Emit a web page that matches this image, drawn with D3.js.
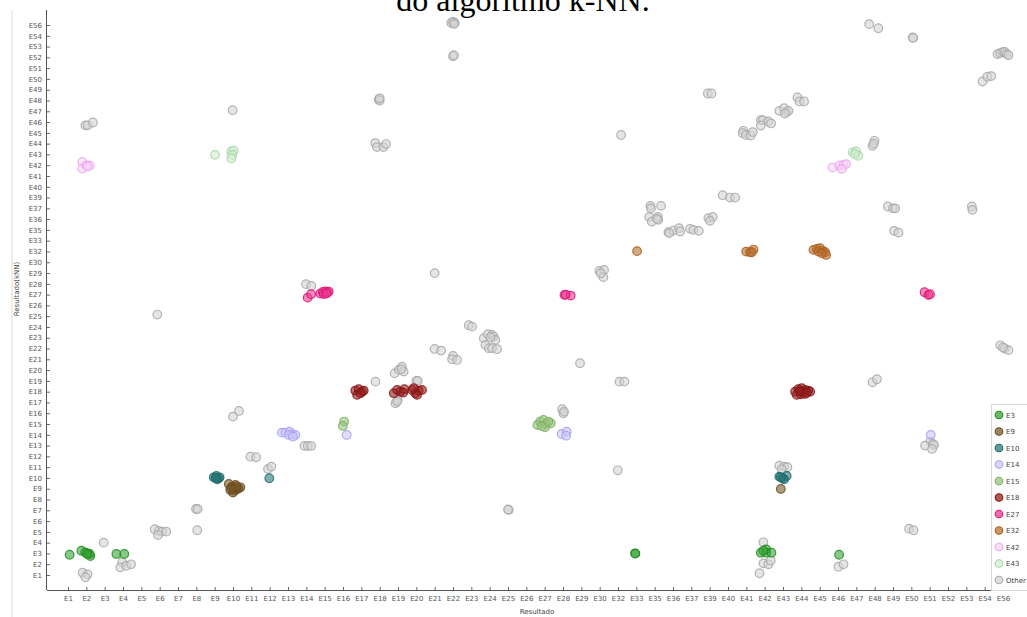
<!DOCTYPE html>
<html>
<head>
<meta charset="utf-8">
<script src="https://cdn.jsdelivr.net/npm/d3@7"></script>
<style>
  html, body { margin: 0; padding: 0; background: #fff; }
  svg { display: block; }
  .tick text { font-family: "DejaVu Sans", sans-serif; font-size: 7px; fill: #555; }
  .tick line { stroke: #666; }
</style>
</head>
<body>
<script>
// Category labels shared by both axes (classes present in the test set)
const categories = ["E1","E2","E3","E4","E5","E6","E7","E8","E9","E10","E11","E12","E13","E14",
  "E15","E16","E17","E18","E19","E20","E21","E22","E23","E24","E25","E26","E27","E28","E29","E30",
  "E32","E33","E35","E36","E37","E39","E40","E41","E42","E43","E44","E45","E46","E47","E48","E49",
  "E50","E51","E52","E53","E54","E56"];

// Each point: [position on the "Resultado" axis, position on the "Resultado(kNN)" axis],
// given as category index with the jitter used to separate overlapping samples.
const otherPts = [
  [20.9,51.2],[21.0,51.3],[21.1,51.2],[21.05,51.1],[21.0,48.1],[21.05,48.2],
  [16.95,44.1],[17.0,44.0],[17.0,44.2],[16.76,40.05],[16.85,39.68],[17.2,39.68],[17.35,39.96],
  [8.98,43.1],[0.95,41.7],[1.07,41.7],[1.36,41.96],[20.0,27.99],[12.98,26.97],[13.27,26.8],
  [43.7,51.08],[44.2,50.7],[46.08,49.84],[46.1,49.8],
  [50.7,48.3],[50.85,48.4],[51.0,48.5],[51.1,48.5],[51.2,48.3],[51.3,48.2],
  [49.88,45.76],[50.15,46.2],[50.36,46.26],[34.9,44.65],[35.1,44.65],[30.17,40.8],
  [36.84,41.19],[36.8,40.97],[36.98,40.8],[37.24,40.75],[37.35,41.07],
  [37.79,42.18],[37.9,42.18],[37.79,41.68],[38.2,42.05],[38.35,41.87],
  [38.8,43.04],[39.06,43.29],[39.2,42.92],[39.3,43.04],[39.1,42.79],
  [39.79,44.28],[39.9,43.91],[40.15,43.91],[43.99,40.26],[43.88,39.8],[43.95,40.0],
  [35.71,35.22],[36.11,35.0],[36.39,35.0],[31.77,34.23],[31.8,34.0],[32.35,34.23],
  [31.7,33.21],[31.84,32.77],[32.17,33.21],[32.2,32.93],[32.12,33.02],
  [32.75,31.79],[33.02,31.94],[33.33,32.16],[33.39,31.85],[32.8,31.7],
  [33.93,32.1],[34.11,32.0],[34.41,31.91],[34.93,33.09],[35.17,33.21],[35.02,32.84],
  [28.99,28.2],[29.24,28.29],[29.2,27.62],[29.06,27.98],
  [44.72,34.17],[44.99,34.0],[45.12,34.0],[45.06,31.91],[45.3,31.75],[49.3,34.17],[49.33,33.86],
  [4.87,24.15],[21.86,23.16],[22.04,23.03],
  [22.68,21.96],[22.9,22.33],[23.13,22.26],[23.22,22.11],[23.31,21.8],[22.77,21.34],
  [22.95,21.03],[23.13,21.03],[23.4,20.94],[23.04,22.05],
  [20.0,20.96],[20.35,20.81],[21.0,20.32],[20.95,20.01],[21.22,19.94],[16.77,17.93],
  [17.82,18.71],[18.04,19.02],[18.22,19.32],[18.31,18.86],[18.18,19.08],[19.0,18.0],[19.08,18.0],
  [17.86,15.93],[17.98,16.23],[17.95,16.08],[9.0,14.69],[9.33,15.21],
  [12.9,11.97],[13.08,11.97],[13.26,11.97],[9.95,10.97],[10.26,10.92],[10.91,9.83],[11.09,10.05],
  [6.98,6.12],[7.07,6.12],[7.05,4.15],
  [4.73,4.24],[4.95,4.08],[5.13,4.02],[5.36,4.02],[4.91,3.71],[1.95,3.0],
  [2.95,1.18],[2.85,0.71],[3.18,0.86],[3.44,0.99],[0.8,0.21],[1.07,0.06],[0.95,-0.21],
  [24.04,6.03],[24.0,6.08],[27.93,19.64],[30.08,17.93],[30.35,17.93],
  [26.95,15.37],[27.02,15.0],[27.06,15.15],[29.99,9.71],[43.88,17.87],[44.12,18.15],
  [47.03,12.37],[46.75,12.0],[47.17,12.15],[47.24,12.06],[47.13,11.69],
  [38.8,10.14],[39.06,10.05],[39.24,9.99],[38.93,9.8],
  [37.93,3.03],[37.93,1.08],[38.2,0.99],[38.33,1.33],[37.72,0.16],
  [42.02,0.77],[42.3,0.99],[45.88,4.3],[46.12,4.15],
  [50.85,21.3],[51.1,21.0],[51.3,20.85],[51.0,21.1]
];
const e3Pts = [
  [0.09,1.88],[0.73,2.25],[0.94,2.1],[1.07,2.01],[1.22,1.76],[1.18,1.95],[1.04,1.95],
  [2.64,1.95],[3.07,1.95],[30.93,2.01],[30.95,1.98],
  [37.79,2.07],[38.08,2.38],[38.08,2.07],[38.37,2.07],[37.93,2.25],[42.06,1.88]
];
const e9Pts = [
  [8.77,8.44],[8.95,8.2],[9.13,8.35],[9.31,8.04],[8.85,7.88],[9.04,7.82],[9.22,7.95],
  [9.4,8.13],[9.0,7.64],[9.1,8.0],[9.2,8.2],[8.9,8.05],[38.88,7.98]
];
const e10Pts = [
  [7.95,9.06],[8.09,9.18],[8.22,8.97],[8.13,8.88],[8.27,9.06],[8.05,9.0],[10.98,8.97],
  [38.8,9.12],[38.98,8.97],[39.2,9.18],[39.06,8.88],[38.88,9.06]
];
const e14Pts = [
  [11.67,13.2],[11.86,13.2],[12.09,13.29],[12.22,13.05],[12.4,12.99],[12.04,12.99],[12.27,12.83],
  [15.2,12.99],[26.93,13.08],[27.2,13.29],[27.17,12.92],[47.06,12.99]
];
const e15Pts = [
  [15.06,14.23],[14.99,13.82],[25.6,13.91],[25.75,14.22],[25.93,14.38],[26.08,14.01],
  [26.33,14.07],[26.02,13.7],[25.84,13.82],[26.2,14.22]
];
const e18Pts = [
  [15.67,17.1],[15.86,17.23],[16.04,17.0],[16.13,17.1],[15.77,16.7],[15.95,16.86],
  [17.77,16.86],[17.95,17.16],[18.13,17.0],[18.35,17.23],[18.28,16.91],
  [18.77,17.16],[18.95,16.86],[19.13,17.1],[19.31,17.16],[18.86,17.32],[19.04,16.7],
  [39.66,17.0],[39.83,17.23],[40.02,17.32],[40.2,17.16],[40.38,17.1],[39.75,16.7],
  [39.97,16.76],[40.2,16.79],[40.48,17.0],[40.07,17.0],[39.9,17.05],[40.3,16.9]
];
const e27Pts = [
  [13.07,25.72],[13.26,26.04],[13.76,26.1],[13.9,26.25],[14.05,26.3],[14.15,26.2],
  [14.22,26.28],[13.95,26.05],[14.1,26.1],[27.08,25.97],[27.42,25.91],[27.15,26.0],
  [46.72,26.22],[46.93,25.97],[47.02,26.04]
];
const e32Pts = [
  [31.04,30.03],[36.99,29.99],[37.2,29.93],[37.39,30.18],[37.3,29.93],
  [40.66,30.15],[40.84,30.24],[41.02,30.31],[41.17,30.06],[41.3,29.93],[41.35,29.68],
  [40.93,29.99],[41.12,29.84]
];
const e42Pts = [
  [0.78,38.3],[0.78,37.7],[1.0,37.97],[1.18,37.97],[1.07,37.88],
  [41.7,37.78],[42.08,37.97],[42.3,38.03],[42.44,38.1],[42.2,37.66]
];
const e43Pts = [
  [8.02,38.96],[8.91,39.27],[9.04,39.36],[8.96,38.96],[8.91,38.65],
  [42.8,39.18],[42.99,39.27],[43.11,38.87],[42.93,39.03]
];

const legendNames = ["E3","E9","E10","E14","E15","E18","E27","E32","E42","E43","Other"];
const strokeColors = ["#1e8c1e","#6a4a1c","#1d6a6a","#a79ff0","#7fae62","#861414","#de1479","#ad5f1d","#eba6eb","#a6d6a6","#a8a8a8"];
const fillColors   = ["#3aa33a","#7a5a2a","#2b7878","#cdc8fa","#98c480","#962020","#ea3c8f","#b8712f","#f7d4f7","#d2ecd2","#d4d4d4"];

const seriesPts = {
  "E3": e3Pts, "E9": e9Pts, "E10": e10Pts, "E14": e14Pts, "E15": e15Pts, "E18": e18Pts,
  "E27": e27Pts, "E32": e32Pts, "E42": e42Pts, "E43": e43Pts, "Other": otherPts
};

const W = 1027, H = 617;
const svg = d3.select("body").append("svg").attr("width", W).attr("height", H);

// Page frame line on the left
svg.append("line").attr("x1", 12).attr("x2", 12).attr("y1", 10).attr("y2", H)
  .attr("stroke", "#dcdcdc").attr("stroke-width", 1);

// Caption text above the figure
svg.append("text")
  .attr("x", 523).attr("y", 11)
  .attr("text-anchor", "middle")
  .attr("font-family", "'Liberation Serif', 'Times New Roman', serif")
  .attr("font-size", 32)
  .attr("fill", "#000")
  .text("do algoritmo k-NN.");

const x = d3.scaleLinear().domain([0, categories.length - 1]).range([68, 1003]);
const y = d3.scaleLinear().domain([0, categories.length - 1]).range([575, 25]);

const axisX0 = 47, axisY0 = 590;

const gx = svg.append("g").attr("transform", `translate(0,${axisY0})`)
  .call(d3.axisBottom(x).tickValues(d3.range(categories.length))
    .tickFormat(i => categories[i]).tickSize(-3).tickPadding(6));
gx.select(".domain").remove();

const gy = svg.append("g").attr("transform", `translate(${axisX0},0)`)
  .call(d3.axisLeft(y).tickValues(d3.range(categories.length))
    .tickFormat(i => categories[i]).tickSize(-3).tickPadding(5));
gy.select(".domain").remove();

svg.append("line").attr("x1", axisX0).attr("x2", 1021).attr("y1", axisY0 + 0.5).attr("y2", axisY0 + 0.5)
  .attr("stroke", "#555");
svg.append("line").attr("x1", axisX0 - 0.5).attr("x2", axisX0 - 0.5).attr("y1", 10).attr("y2", axisY0)
  .attr("stroke", "#555");

// Axis titles
svg.append("text").attr("x", 537).attr("y", 614).attr("text-anchor", "middle")
  .attr("font-family", "'DejaVu Sans', sans-serif").attr("font-size", 7).attr("fill", "#444")
  .text("Resultado");
svg.append("text").attr("transform", "translate(19,289) rotate(-90)").attr("text-anchor", "middle")
  .attr("font-family", "'DejaVu Sans', sans-serif").attr("font-size", 7).attr("fill", "#444")
  .text("Resultado(kNN)");

// Points: "Other" first so the labelled classes sit on top
const drawOrder = ["Other", "E42", "E43", "E14", "E15", "E3", "E9", "E10", "E18", "E27", "E32"];
const plot = svg.append("g");
drawOrder.forEach(name => {
  const k = legendNames.indexOf(name);
  plot.append("g").selectAll("circle").data(seriesPts[name]).join("circle")
    .attr("cx", d => x(d[0]))
    .attr("cy", d => y(d[1]))
    .attr("r", 4.3)
    .attr("fill", fillColors[k])
    .attr("fill-opacity", name === "Other" ? 0.6 : 0.6)
    .attr("stroke", strokeColors[k])
    .attr("stroke-opacity", 0.85)
    .attr("stroke-width", 1.2);
});

// Legend
const lg = svg.append("g").attr("transform", "translate(991,404)");
lg.append("rect").attr("x", 0.5).attr("y", 0.5).attr("width", 40).attr("height", 186)
  .attr("fill", "#fff").attr("stroke", "#d8d8d8");
legendNames.forEach((name, k) => {
  const row = lg.append("g").attr("transform", `translate(0,${11 + k * 16.5})`);
  row.append("circle").attr("cx", 8).attr("cy", 0).attr("r", 3.8)
    .attr("fill", fillColors[k]).attr("fill-opacity", 0.75)
    .attr("stroke", strokeColors[k]).attr("stroke-width", 1.1);
  row.append("text").attr("x", 15).attr("y", 2.5)
    .attr("font-family", "'DejaVu Sans', sans-serif").attr("font-size", 7).attr("fill", "#444")
    .text(name);
});
</script>
</body>
</html>
